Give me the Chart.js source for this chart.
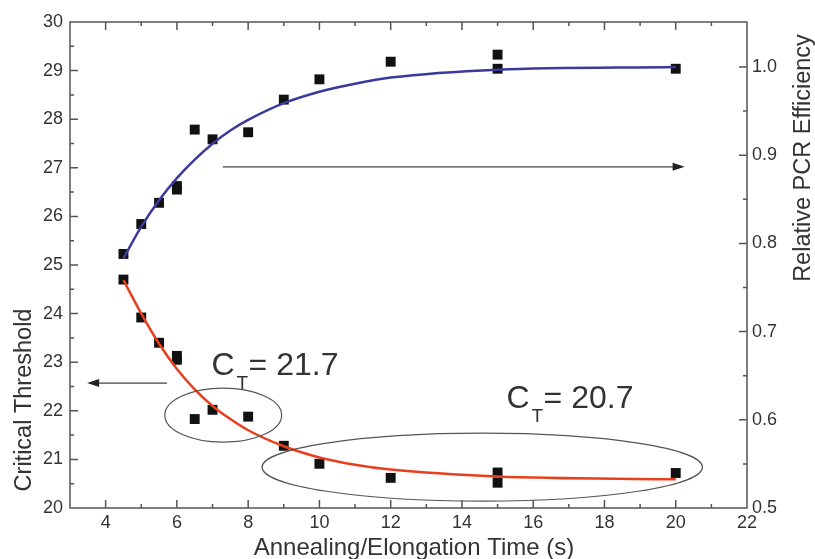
<!DOCTYPE html>
<html>
<head>
<meta charset="utf-8">
<script src="https://cdn.jsdelivr.net/npm/chart.js@4"></script>
<style>
  body { margin: 0; background: #fff; }
  #wrap { width: 815px; height: 559px; }
</style>
</head>
<body>
<div id="wrap"><canvas id="ctChart"></canvas></div>
<script>
// measured points (both series share the time axis)
const timeS = [4.5, 5, 5.5, 6, 6, 6.5, 7, 8, 9, 10, 12, 15, 15, 20];
const thresholdCt = [24.7, 23.92, 23.4, 23.13, 23.05, 21.83, 22.02, 21.88, 21.28, 20.91, 20.62, 20.73, 20.52, 20.72];
const efficiency = [0.788, 0.822, 0.846, 0.865, 0.861, 0.929, 0.918, 0.926, 0.963, 0.986, 1.006, 1.014, 0.998, 0.998];

// fitted curves
const fitTime = [4.5, 5, 5.5, 6, 6.5, 7, 7.5, 8, 9, 10, 11, 12, 15, 20];
const fitThreshold = [24.69, 24.0, 23.38, 22.86, 22.44, 22.1, 21.83, 21.6, 21.27, 21.04, 20.89, 20.79, 20.65, 20.59];
const fitEfficiency = [0.783, 0.819, 0.849, 0.874, 0.895, 0.913, 0.928, 0.94, 0.959, 0.972, 0.981, 0.988, 0.997, 1.0];

const xTicks = [4, 6, 8, 10, 12, 14, 16, 18, 20, 22];
const yTicks = [20, 21, 22, 23, 24, 25, 26, 27, 28, 29, 30];
const y1Ticks = [0.5, 0.6, 0.7, 0.8, 0.9, 1.0];

const FONT = '"Liberation Sans", Arial, Helvetica, sans-serif';
const AXIS = '#555';
const TXT = '#333';

function pts(xs, ys) {
  return xs.map((x, i) => ({ x, y: ys[i] }));
}

function setTicks(values) {
  return scale => { scale.ticks = values.map(v => ({ value: v })); };
}

function arrow(ctx, x1, y, x2) {
  const dir = x2 > x1 ? 1 : -1;
  ctx.beginPath();
  ctx.moveTo(x1, y);
  ctx.lineTo(x2 - dir * 10, y);
  ctx.stroke();
  ctx.beginPath();
  ctx.moveTo(x2, y);
  ctx.lineTo(x2 - dir * 12, y - 4);
  ctx.lineTo(x2 - dir * 12, y + 4);
  ctx.closePath();
  ctx.fill();
}

function ctLabel(ctx, x, y, value) {
  ctx.textAlign = 'left';
  ctx.textBaseline = 'alphabetic';
  ctx.font = '32px ' + FONT;
  ctx.fillText('C', x, y);
  const cw = ctx.measureText('C').width;
  ctx.font = '19px ' + FONT;
  ctx.fillText('T', x + cw + 2, y + 14);
  ctx.font = '32px ' + FONT;
  ctx.fillText('= ' + value, x + cw + 14, y);
}

const framePlugin = {
  id: 'frame',
  afterDraw(chart) {
    const { ctx, chartArea: { left, right, top, bottom }, scales: { x, y, y1 } } = chart;
    ctx.save();
    ctx.strokeStyle = AXIS;
    ctx.fillStyle = AXIS;
    ctx.lineWidth = 1.5;
    ctx.strokeRect(left, top, right - left, bottom - top);

    // inward ticks, major + minor
    ctx.beginPath();
    for (let v = 4; v <= 21; v++) {
      const px = x.getPixelForValue(v);
      const len = v % 2 === 0 ? 8 : 4;
      ctx.moveTo(px, bottom); ctx.lineTo(px, bottom - len);
      ctx.moveTo(px, top); ctx.lineTo(px, top + len);
    }
    for (let v = 20.5; v < 30; v += 0.5) {
      const py = y.getPixelForValue(v);
      const len = v % 1 === 0 ? 8 : 4;
      ctx.moveTo(left, py); ctx.lineTo(left + len, py);
    }
    for (let k = 11; k <= 20; k++) {
      const py = y1.getPixelForValue(k * 0.05);
      const len = k % 2 === 0 ? 8 : 4;
      ctx.moveTo(right, py); ctx.lineTo(right - len, py);
    }
    ctx.stroke();

    // annotations
    ctx.strokeStyle = '#444';
    ctx.fillStyle = '#222';
    ctx.lineWidth = 1.2;
    arrow(ctx, x.getPixelForValue(5.72), y.getPixelForValue(22.57), x.getPixelForValue(3.48));
    arrow(ctx, x.getPixelForValue(7.29), y.getPixelForValue(27.02), x.getPixelForValue(20.25));

    ctx.strokeStyle = '#555';
    const ellipses = [
      { cx: 7.3, cy: 21.91, rx: 1.64, ry: 0.556 },
      { cx: 14.57, cy: 20.84, rx: 6.18, ry: 0.7 }
    ];
    ellipses.forEach(e => {
      const cx = x.getPixelForValue(e.cx);
      const cy = y.getPixelForValue(e.cy);
      const rx = x.getPixelForValue(e.cx + e.rx) - cx;
      const ry = cy - y.getPixelForValue(e.cy + e.ry);
      ctx.beginPath();
      ctx.ellipse(cx, cy, rx, ry, 0, 0, Math.PI * 2);
      ctx.stroke();
    });

    ctx.fillStyle = TXT;
    ctLabel(ctx, x.getPixelForValue(6.97), y.getPixelForValue(22.74), '21.7');
    ctLabel(ctx, x.getPixelForValue(15.25), y.getPixelForValue(22.06), '20.7');

    // axis titles
    ctx.textAlign = 'center';
    ctx.textBaseline = 'alphabetic';
    ctx.font = '24px ' + FONT;
    ctx.fillText('Annealing/Elongation Time (s)', 414, 555);

    ctx.font = '23.5px ' + FONT;
    ctx.save();
    ctx.translate(31, 400);
    ctx.rotate(-Math.PI / 2);
    ctx.fillText('Critical Threshold', 0, 0);
    ctx.restore();

    ctx.save();
    ctx.translate(810, 158);
    ctx.rotate(-Math.PI / 2);
    ctx.fillText('Relative PCR Efficiency', 0, 0);
    ctx.restore();

    ctx.restore();
  }
};

new Chart(document.getElementById('ctChart'), {
  type: 'scatter',
  data: {
    datasets: [
      {
        label: 'CT fit',
        data: pts(fitTime, fitThreshold),
        showLine: true,
        borderColor: '#e8401c',
        borderWidth: 2.5,
        pointRadius: 0,
        cubicInterpolationMode: 'monotone',
        yAxisID: 'y'
      },
      {
        label: 'Efficiency fit',
        data: pts(fitTime, fitEfficiency),
        showLine: true,
        borderColor: '#3b3a9c',
        borderWidth: 2.5,
        pointRadius: 0,
        cubicInterpolationMode: 'monotone',
        yAxisID: 'y1'
      },
      {
        label: 'Critical Threshold',
        data: pts(timeS, thresholdCt),
        pointStyle: 'rect',
        pointRadius: 7,
        backgroundColor: '#111',
        borderColor: '#111',
        borderWidth: 0,
        yAxisID: 'y'
      },
      {
        label: 'Relative PCR Efficiency',
        data: pts(timeS, efficiency),
        pointStyle: 'rect',
        pointRadius: 7,
        backgroundColor: '#111',
        borderColor: '#111',
        borderWidth: 0,
        yAxisID: 'y1'
      }
    ]
  },
  options: {
    responsive: true,
    maintainAspectRatio: false,
    animation: false,
    layout: { padding: { top: 22, left: 0, right: 0, bottom: 0 } },
    plugins: {
      legend: { display: false },
      tooltip: { enabled: false }
    },
    scales: {
      x: {
        type: 'linear',
        min: 3,
        max: 22,
        afterBuildTicks: setTicks(xTicks),
        afterFit: s => { s.height = 51; },
        grid: { display: false, drawTicks: false },
        border: { display: false },
        ticks: { padding: 4, color: TXT, font: { family: FONT, size: 18 }, maxRotation: 0 }
      },
      y: {
        position: 'left',
        min: 20,
        max: 30,
        afterBuildTicks: setTicks(yTicks),
        afterFit: s => { s.width = 70; },
        grid: { display: false, drawTicks: false },
        border: { display: false },
        ticks: { padding: 7, color: TXT, font: { family: FONT, size: 18 } }
      },
      y1: {
        position: 'right',
        min: 0.5,
        max: 1.051,
        afterBuildTicks: setTicks(y1Ticks),
        afterFit: s => { s.width = 68; },
        grid: { display: false, drawTicks: false },
        border: { display: false },
        ticks: {
          padding: 5,
          color: TXT,
          font: { family: FONT, size: 18 },
          callback: v => v.toFixed(1)
        }
      }
    }
  },
  plugins: [framePlugin]
});
</script>
</body>
</html>
